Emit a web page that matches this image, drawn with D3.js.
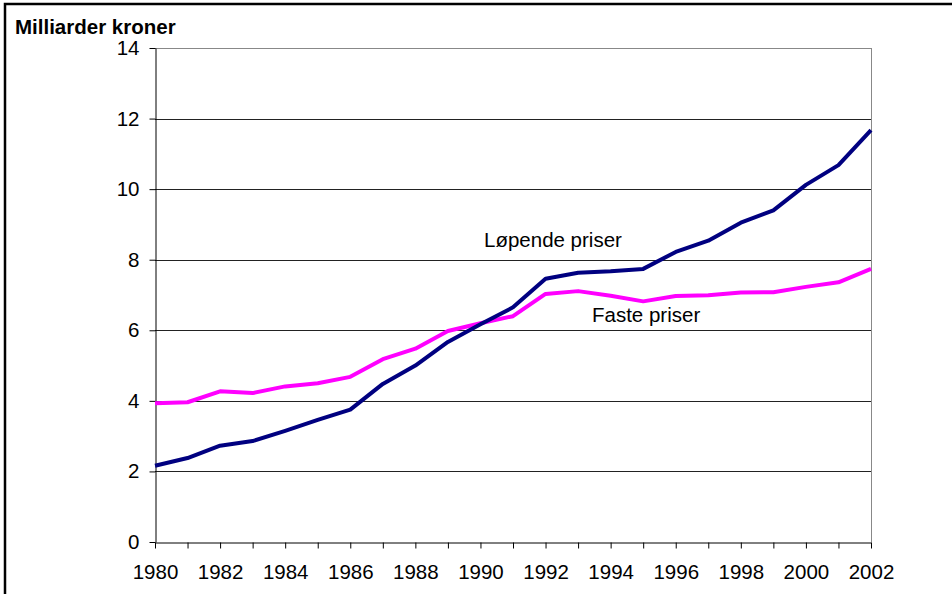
<!DOCTYPE html>
<html>
<head>
<meta charset="utf-8">
<script src="https://cdn.jsdelivr.net/npm/d3@7"></script>
<style>
  body { margin: 0; background: #fff; }
  svg { display: block; font-family: Arial, "Liberation Sans", sans-serif; }
</style>
</head>
<body>
<svg id="chart" width="952" height="594"></svg>
<script>
// data
var years = d3.range(1980, 2003);
var lopende = [2.16, 2.38, 2.73, 2.86, 3.15, 3.46, 3.75, 4.48, 5.0, 5.67, 6.17, 6.65, 7.46, 7.63, 7.67, 7.74, 8.22, 8.54, 9.05, 9.4, 10.12, 10.68, 11.67];
var faste = [3.93, 3.96, 4.27, 4.22, 4.41, 4.5, 4.68, 5.18, 5.48, 5.98, 6.2, 6.4, 7.03, 7.11, 6.98, 6.82, 6.97, 6.99, 7.07, 7.08, 7.23, 7.36, 7.74];
var yTicks = [0, 2, 4, 6, 8, 10, 12, 14];
var xLabels = d3.range(1980, 2003, 2);

var svg = d3.select("#chart");
var plotLeft = 155, plotRight = 871, plotTop = 48, plotBottom = 542;
var fs = 20.5;

var x = d3.scaleLinear().domain([1980, 2002]).range([plotLeft, plotRight]);
var y = d3.scaleLinear().domain([0, 14]).range([plotBottom, plotTop]);

// outer frame (runs off the right and bottom of the picture)
svg.append("rect")
  .attr("x", 5).attr("y", 4)
  .attr("width", 1000).attr("height", 1000)
  .attr("fill", "none").attr("stroke", "#000").attr("stroke-width", 2.5);

// gridlines
svg.append("g").selectAll("line")
  .data(yTicks.filter(function(d) { return d > 0; }))
  .enter().append("line")
  .attr("x1", plotLeft).attr("x2", plotRight)
  .attr("y1", function(d) { return Math.round(y(d)) + 0.5; })
  .attr("y2", function(d) { return Math.round(y(d)) + 0.5; })
  .attr("stroke", function(d) { return d == 14 ? "#888" : "#222"; })
  .attr("stroke-width", 1);

// right border of plot area
svg.append("line")
  .attr("x1", plotRight + 0.5).attr("x2", plotRight + 0.5)
  .attr("y1", plotTop).attr("y2", plotBottom)
  .attr("stroke", "#888");

// y axis
var yAxis = d3.axisLeft(y).tickValues(yTicks).tickSize(6).tickPadding(10).tickSizeOuter(0);
var gy = svg.append("g").attr("transform", "translate(" + (plotLeft + 0.5) + ",0)").call(yAxis);
gy.selectAll("text").attr("font-size", fs).attr("font-family", "Arial, 'Liberation Sans', sans-serif").attr("fill", "#000");

// x axis: tick each year, label every second
var xAxis = d3.axisBottom(x).tickValues(years).tickSize(6).tickPadding(16).tickSizeOuter(0)
  .tickFormat(function(d) { return xLabels.indexOf(d) >= 0 ? d : ""; });
var gx = svg.append("g").attr("transform", "translate(0," + (plotBottom + 0.5) + ")").call(xAxis);
gx.selectAll("text").attr("font-size", fs).attr("font-family", "Arial, 'Liberation Sans', sans-serif").attr("fill", "#000");

svg.selectAll(".domain, .tick line").attr("stroke", "#000");

// lines
var line = d3.line()
  .x(function(d, i) { return x(years[i]); })
  .y(function(d) { return y(d); });

svg.append("path").datum(faste)
  .attr("d", line).attr("fill", "none")
  .attr("stroke", "#ff00ff").attr("stroke-width", 4).attr("stroke-linejoin", "round");

svg.append("path").datum(lopende)
  .attr("d", line).attr("fill", "none")
  .attr("stroke", "#000080").attr("stroke-width", 4).attr("stroke-linejoin", "round");

// labels
svg.append("text").attr("x", 15).attr("y", 34)
  .attr("font-size", fs).attr("font-weight", "bold").text("Milliarder kroner");

svg.append("text").attr("x", 484).attr("y", 247)
  .attr("font-size", fs).text("Løpende priser");

svg.append("text").attr("x", 592).attr("y", 322)
  .attr("font-size", fs).text("Faste priser");
</script>
</body>
</html>
